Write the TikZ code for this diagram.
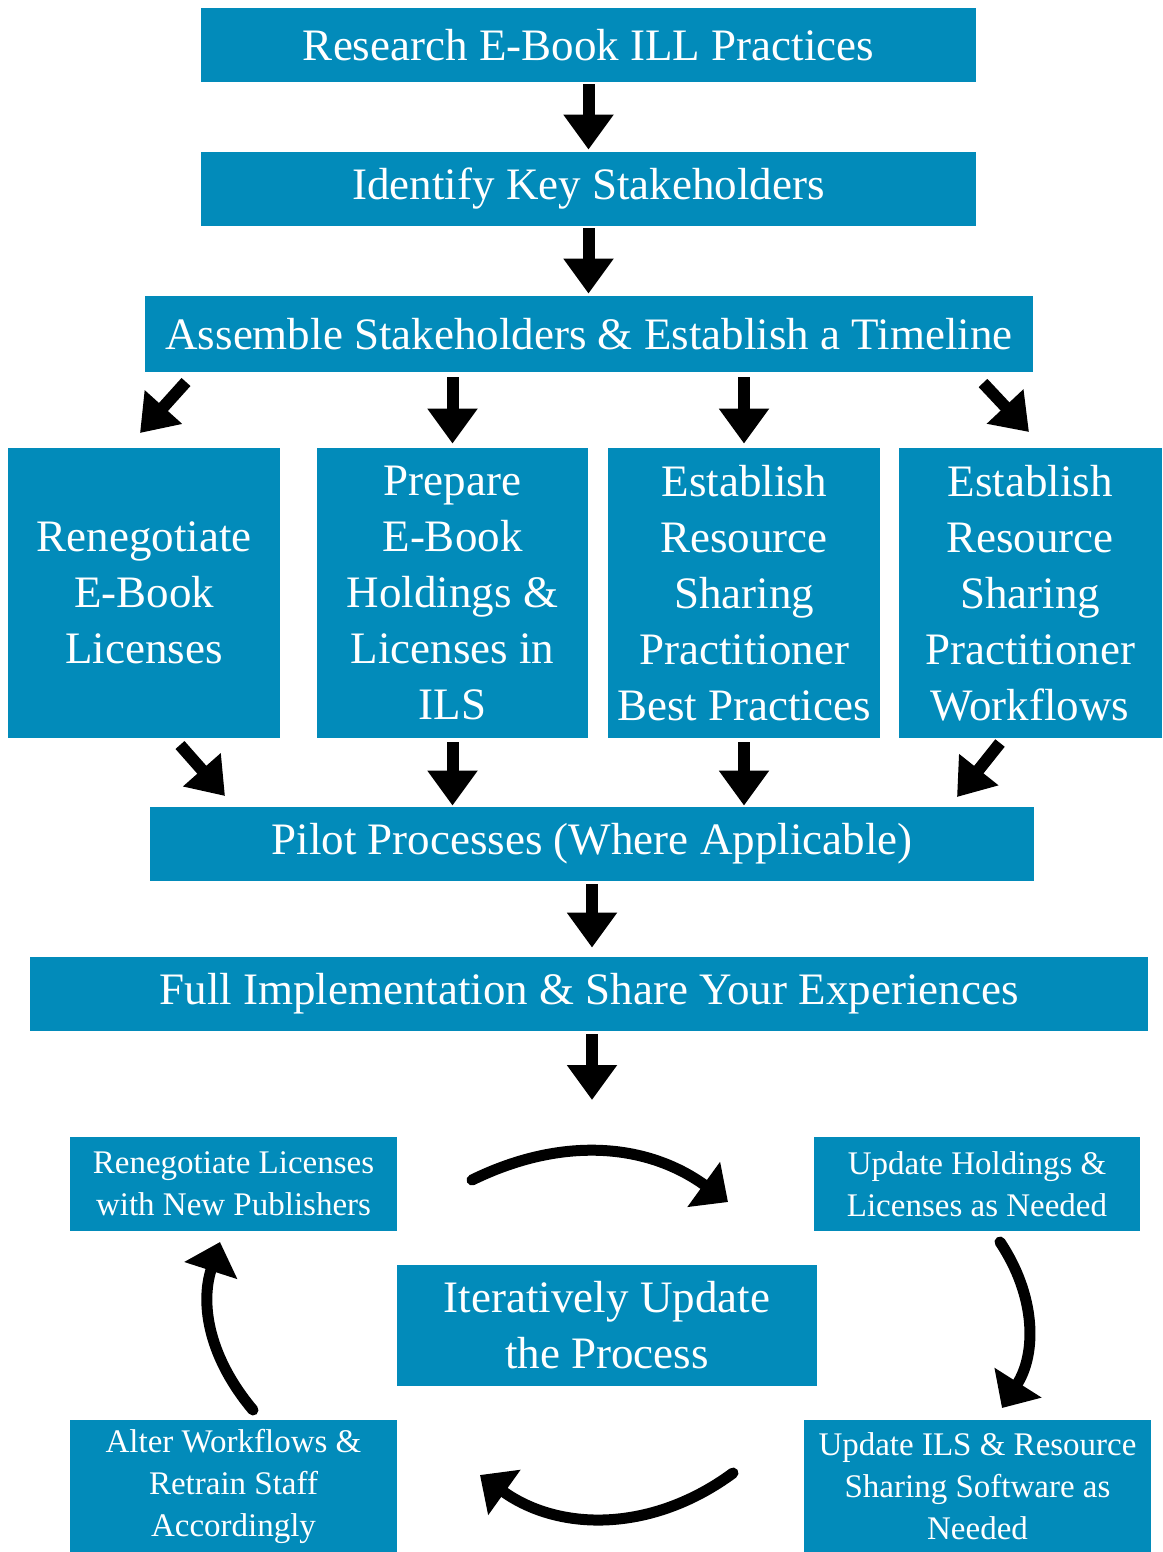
\documentclass[tikz,border=0pt]{standalone}
\usepackage{fontspec}
\setmainfont{Liberation Serif}
\usetikzlibrary{arrows.meta,positioning,calc}
\definecolor{stepblue}{RGB}{2,139,186}

\begin{document}
\begin{tikzpicture}[x=0.5pt,y=0.5pt,
  box/.style={fill=stepblue,text=white,align=center,inner sep=0pt,
    font=\fontsize{22.5}{28}\selectfont},
  smallbox/.style={box,font=\fontsize{16.5}{21}\selectfont},
  flow/.style={line width=6pt,-{Triangle[width=24pt,length=17.5pt]}},
  cycle/.style={line width=5.5pt,line cap=round,-{Triangle[width=27pt,length=15pt]}}]

\useasboundingbox (0,0) rectangle (1162,-1552);

% main steps
\node[box,minimum width=387.5pt,minimum height=37pt] (res) at (588.5,-45) {Research E-Book ILL Practices};
\node[box,minimum width=387.5pt,minimum height=37pt] (ident) at (588.5,-189) {Identify Key Stakeholders};
\node[box,minimum width=444pt,minimum height=38pt] (assem) at (589,-334) {Assemble Stakeholders \& Establish a Timeline};

\node[box,minimum width=136pt,minimum height=145pt] (ren) at (144,-593) {Renegotiate\\E-Book\\Licenses};
\node[box,minimum width=135.5pt,minimum height=145pt] (prep) at (452.5,-593) {Prepare\\E-Book\\Holdings \&\\Licenses in\\ILS};
\node[box,minimum width=136pt,minimum height=145pt] (estbp) at (744,-593) {Establish\\Resource\\Sharing\\Practitioner\\Best Practices};
\node[box,minimum width=131.5pt,minimum height=145pt] (estwf) at (1030,-593) {Establish\\Resource\\Sharing\\Practitioner\\Workflows};

\node[box,minimum width=442pt,minimum height=37pt] (pilot) at (592,-844) {Pilot Processes (Where Applicable)};
\node[box,minimum width=559pt,minimum height=37pt] (full) at (589,-994) {Full Implementation \& Share Your Experiences};

% update cycle
\node[smallbox,minimum width=163.5pt,minimum height=47pt] (relic) at (233.5,-1183.5) {Renegotiate Licenses\\with New Publishers};
\node[smallbox,minimum width=163pt,minimum height=47pt] (holdup) at (977,-1184) {Update Holdings \&\\Licenses as Needed};
\node[box,minimum width=210pt,minimum height=60.5pt] (iter) at (607,-1325.5) {Iteratively Update\\the Process};
\node[smallbox,minimum width=163.5pt,minimum height=66pt] (alter) at (233.5,-1486) {Alter Workflows \&\\Retrain Staff\\Accordingly};
\node[smallbox,minimum width=173.5pt,minimum height=66pt] (ilsup) at (977.5,-1486) {Update ILS \& Resource\\Sharing Software as\\Needed};

% free ends of the slanted and curved arrows
\coordinate (d1s) at (186,-382);  \coordinate (d1e) at (140,-433);
\coordinate (d2s) at (983,-383);  \coordinate (d2e) at (1029,-432);
\coordinate (d3s) at (180,-745);  \coordinate (d3e) at (225,-796);
\coordinate (d4s) at (1000,-743); \coordinate (d4e) at (957,-797);
\coordinate (cyc) at (592,-1100);
\coordinate (t1) at (472,-1180);  \coordinate (t2) at (728,-1202);
\coordinate (r1) at (1000,-1242); \coordinate (r2) at (1002,-1408);
\coordinate (b1) at (733,-1473);  \coordinate (b2) at (480,-1475);
\coordinate (l1) at (253,-1410);  \coordinate (l2) at (220,-1242);

\draw[flow,shorten <=1pt,shorten >=1pt] (res.south) -- (ident.north);
\draw[flow,shorten <=1pt,shorten >=1pt] (ident.south) -- (ident.south |- assem.north);

\draw[flow] (d1s) -- (d1e);
\draw[flow,shorten <=2.5pt,shorten >=2pt] (assem.south -| prep.north) -- (prep.north);
\draw[flow,shorten <=2.5pt,shorten >=2pt] (assem.south -| estbp.north) -- (estbp.north);
\draw[flow] (d2s) -- (d2e);

\draw[flow] (d3s) -- (d3e);
\draw[flow,shorten <=2pt,shorten >=0.5pt] (prep.south) -- (prep.south |- pilot.north);
\draw[flow,shorten <=2pt,shorten >=0.5pt] (estbp.south) -- (estbp.south |- pilot.north);
\draw[flow] (d4s) -- (d4e);

\draw[flow,shorten <=1.5pt,shorten >=4.5pt] (pilot.south) -- (pilot.south |- full.north);
\draw[flow,shorten <=1.5pt] (full.south -| cyc) -- (cyc);

\draw[cycle] (t1) to[bend left=31] (t2);
\draw[cycle] (r1) to[bend left=33] (r2);
\draw[cycle] (b1) to[bend left=36] (b2);
\draw[cycle] (l1) to[bend left=29] (l2);

\end{tikzpicture}
\end{document}
